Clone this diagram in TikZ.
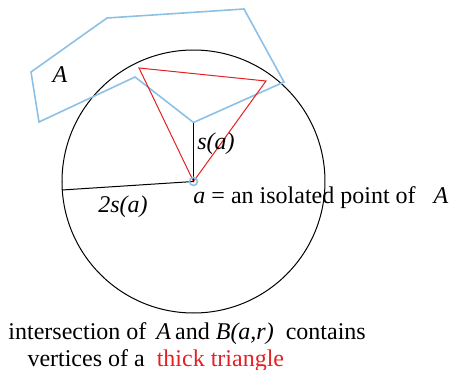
\documentclass[tikz,border=0pt]{standalone}
\usepackage{fontspec}
\setmainfont{Liberation Serif}
\usepackage{xcolor}
\definecolor{setblue}{RGB}{140,192,228}
\definecolor{trired}{RGB}{228,32,36}

\begin{document}
\begin{tikzpicture}[x=0.5pt, y=-0.5pt, line width=0.5pt,
    every node/.style={font=\fontsize{12}{14}\selectfont, inner sep=0pt}]
    \useasboundingbox (0,0) rectangle (452,370);
    \coordinate (a) at (193.5,181.5);
    \coordinate (top) at (193.5,122.5);
    \coordinate (rim) at (62,190);
    \draw[black] (a) circle (131.5);
    % the set A
    \draw[setblue, line width=0.8pt, line join=miter] (31,72) -- (107,18) -- (244,9) -- (284,82) -- (top) -- (135,77) -- (39,122) -- cycle;
    % thick triangle
    \draw[trired] (139,68) -- (266,81) -- (a) -- cycle;
    \draw[black] (a) -- (top);
    \draw[black] (a) -- (rim);
    \draw[setblue, line width=0.8pt] (a) circle (4);
    \node (lA) at (60,75) {\textit{A}};
    \node (ls) at (216,144) {\textit{s(a)}};
    \node (l2s) at (123,207) {\textit{2s(a)}};
    \node[anchor=base west] (la) at (193,203) {\textit{a} = an isolated point of \ \ \textit{A}};
    \node[anchor=base west] (t1) at (8,339) {intersection of \,\textit{A}\,and \textit{B(a,r)} \ contains};
    \node[anchor=base west] (t2) at (27,366) {vertices of a \ \textcolor{trired}{thick triangle}};
\end{tikzpicture}
\end{document}
